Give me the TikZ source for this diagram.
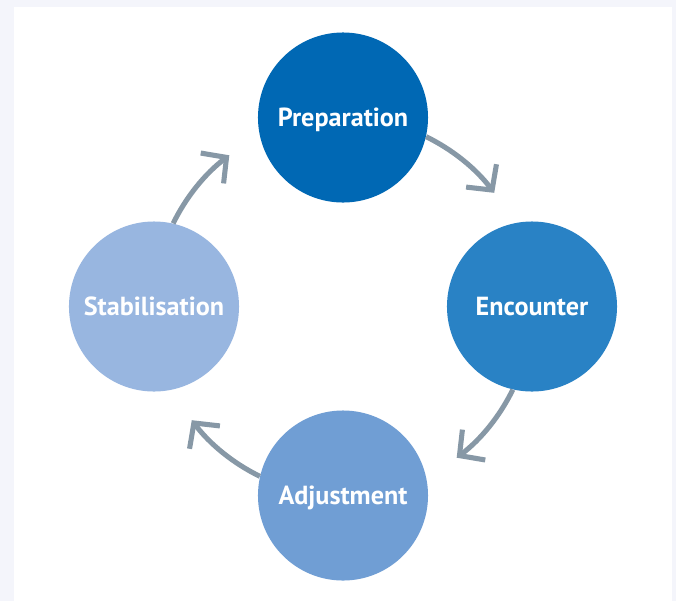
\documentclass[tikz,border=0pt]{standalone}
\usepackage{fontspec}
\setmainfont{PT Sans}
\usetikzlibrary{arrows.meta}
\definecolor{pagebg}{HTML}{F4F5FB}
\definecolor{prepblue}{HTML}{0068B4}
\definecolor{encblue}{HTML}{2982C5}
\definecolor{adjblue}{HTML}{709ED4}
\definecolor{stabblue}{HTML}{98B6E0}
\definecolor{arrowgrey}{HTML}{8798A6}
\tikzset{
  phase/.style={circle, minimum size=4.25cm, inner sep=0pt, text=white,
    text depth=0pt, font=\fontsize{18.6}{22}\selectfont\bfseries},
  flow/.style={draw=arrowgrey, line width=3.6pt,
    -{Straight Barb[length=4.5mm,width=9.5mm]}}
}
\begin{document}
\begin{tikzpicture}[x=0.025cm,y=0.025cm]
  % page and panel
  \fill[pagebg] (-343,-294.5) rectangle (333,306.5);
  \fill[white] (-329,-294.5) rectangle (329,299.5);
  % the four phases
  \node[phase, fill=prepblue] (prep) at (0,189) {Preparation};
  \node[phase, fill=encblue] (enc) at (189,0) {Encounter};
  \node[phase, fill=adjblue] (adj) at (0,-189) {Adjustment};
  \node[phase, fill=stabblue] (stab) at (-189,0) {Stabilisation};
  % arrows round the cycle
  \draw[flow] (prep.-13) arc[start angle=64, end angle=37, radius=189];
  \draw[flow] (enc.-103) arc[start angle=-26, end angle=-53, radius=189];
  \draw[flow] (adj.167) arc[start angle=-116, end angle=-143, radius=189];
  \draw[flow] (stab.77) arc[start angle=154, end angle=127, radius=189];
\end{tikzpicture}
\end{document}
